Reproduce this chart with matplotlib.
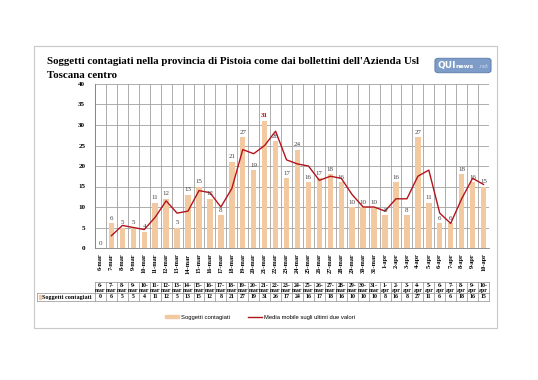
import numpy as np
import matplotlib
matplotlib.use('Agg')
import matplotlib.pyplot as plt
from matplotlib.patches import Rectangle, FancyBboxPatch
from matplotlib.lines import Line2D
from matplotlib.patches import Patch

plt.rcParams['font.family'] = ['Liberation Serif', 'DejaVu Serif']

# dati
giorni = ['6-mar', '7-mar', '8-mar', '9-mar', '10-mar', '11-mar', '12-mar', '13-mar', '14-mar',
          '15-mar', '16-mar', '17-mar', '18-mar', '19-mar', '20-mar', '21-mar', '22-mar', '23-mar',
          '24-mar', '25-mar', '26-mar', '27-mar', '28-mar', '29-mar', '30-mar', '31-mar',
          '1-apr', '2-apr', '3-apr', '4-apr', '5-apr', '6-apr', '7-apr', '8-apr', '9-apr', '10-apr']
contagiati = [0, 6, 5, 5, 4, 11, 12, 5, 13, 15, 12, 8, 21, 27, 19, 31, 26, 17,
              24, 16, 17, 18, 16, 10, 10, 10, 8, 16, 8, 27, 11, 6, 6, 18, 16, 15]
# media mobile (dal 7-mar in poi)
media_mobile = [3, 5.5, 5, 4.5, 7.5, 11.5, 8.5, 9, 14, 13.5, 10, 14.5, 24, 23, 25, 28.5, 21.5,
                20.5, 20, 16.5, 17.5, 17, 13, 10, 10, 9, 12, 12, 17.5, 19, 8.5, 6, 12, 17, 15.5]

W, H = 538, 380
fig = plt.figure(figsize=(W / 100, H / 100), dpi=100)

# cornice
fig.patches.append(Rectangle((34 / W, 1 - 328 / H), (497 - 34) / W, (328 - 46) / H,
                             transform=fig.transFigure, fill=False, ec='#c8c8c8', lw=0.8))

x0, x1, ytop, ybot = 95, 489, 84, 248
ax = fig.add_axes([x0 / W, 1 - ybot / H, (x1 - x0) / W, (ybot - ytop) / H])
n = len(giorni)
x = np.arange(n)
bar_col = '#f2c9a1'
line_col = '#b2141c'

ax.bar(x, contagiati, width=0.5, color=bar_col, zorder=2)
ax.plot(x[1:], media_mobile, color=line_col, lw=1.0, zorder=3)

for xi, v in zip(x, contagiati):
    if v == max(contagiati):
        ax.text(xi, v + 0.6, str(v), ha='center', va='bottom', fontsize=5, color='#c00000',
                fontweight='bold', zorder=4)
    else:
        ax.text(xi, v + 0.6, str(v), ha='center', va='bottom', fontsize=5, color='#404040', zorder=4)

ax.set_xlim(-0.5, n - 0.5)
ax.set_ylim(0, 40)
ax.set_yticks(range(0, 41, 5))
ax.set_yticklabels([str(v) for v in range(0, 41, 5)], fontsize=5, fontweight='bold')
ax.grid(axis='y', color='#a0a0a0', lw=0.6, zorder=0)
for k in range(n + 1):
    ax.axvline(k - 0.5, color='#a0a0a0', lw=0.6, zorder=0)
ax.set_xticks(x)
ax.set_xticklabels(giorni, rotation=90, fontsize=4.6, fontweight='bold', va='top')
ax.tick_params(axis='both', length=0, pad=4)
ax.tick_params(axis='y', pad=7)
for s in ['top', 'right']:
    ax.spines[s].set_visible(False)
ax.spines['left'].set_color('#808080')
ax.spines['bottom'].set_color('#808080')
ax.spines['left'].set_linewidth(0.6)
ax.spines['bottom'].set_linewidth(0.6)

# tabella dati
t_top, t_mid, t_bot = 282, 293, 301
tax = fig.add_axes([x0 / W, 1 - t_bot / H, (x1 - x0) / W, (t_bot - t_top) / H])
tax.set_xlim(-0.5, n - 0.5)
tax.set_ylim(0, t_bot - t_top)
tax.axis('off')
cw = (x1 - x0) / n
left_cell = -0.5 - (x0 - 37) / cw
hh = t_bot - t_top
mid = t_bot - t_mid
tc = '#909090'
tax.plot([-0.5, n - 0.5], [hh, hh], color=tc, lw=0.5, clip_on=False)
tax.plot([left_cell, n - 0.5], [mid, mid], color=tc, lw=0.5, clip_on=False)
tax.plot([left_cell, n - 0.5], [0, 0], color=tc, lw=0.5, clip_on=False)
tax.plot([left_cell, left_cell], [0, mid], color=tc, lw=0.5, clip_on=False)
for k in range(n + 1):
    tax.plot([k - 0.5, k - 0.5], [0, hh], color=tc, lw=0.5, clip_on=False)
for xi, g, v in zip(x, giorni, contagiati):
    d, m = g.split('-')
    tax.text(xi, mid + (hh - mid) * 0.72, d + '-', ha='center', va='center', fontsize=4.2,
             fontweight='bold', clip_on=False)
    tax.text(xi, mid + (hh - mid) * 0.25, m, ha='center', va='center', fontsize=4.2,
             fontweight='bold', clip_on=False)
    tax.text(xi, mid / 2, str(v), ha='center', va='center', fontsize=4.2, fontweight='bold',
             clip_on=False)
tax.add_patch(Rectangle((left_cell + 0.15, mid * 0.3), 0.25, mid * 0.4, color=bar_col, clip_on=False))
tax.text(left_cell + 0.5, mid / 2, 'Soggetti contagiati', ha='left', va='center', fontsize=4.4,
         fontweight='bold', clip_on=False)

# titolo
fig.text(47 / W, 1 - 62 / H, "Soggetti contagiati nella provincia di Pistoia come dai bollettini dell'Azienda Usl",
         fontsize=7.8, fontweight='bold', ha='left', va='center')
fig.text(47 / W, 1 - 76 / H, 'Toscana centro', fontsize=7.8, fontweight='bold', ha='left', va='center')

# logo
fig.patches.append(FancyBboxPatch((436 / W, 1 - 72 / H), 54 / W, 13 / H,
                                  boxstyle='round,pad=0.002,rounding_size=0.006',
                                  transform=fig.transFigure, fc='#7e9cc8', ec='#5a78a8', lw=0.6))
fig.text(438 / W, 1 - 65.5 / H, 'QUI', color='white', fontsize=6.5, fontweight='bold',
         family='DejaVu Sans', ha='left', va='center')
fig.text(456 / W, 1 - 66 / H, 'news', color='white', fontsize=4.5, fontweight='bold',
         family='DejaVu Sans', ha='left', va='center')
fig.text(488 / W, 1 - 66 / H, '.net', color='#c8d8f0', fontsize=3.6,
         family='DejaVu Sans', ha='right', va='center')

# legenda
handles = [Patch(color=bar_col, label='Soggetti contagiati'),
           Line2D([], [], color=line_col, lw=1.0, label='Media mobile sugli ultimi due valori')]
leg = fig.legend(handles=handles, loc='center', bbox_to_anchor=(260 / W, 1 - 317 / H), ncol=2,
                 frameon=False, prop={'family': 'Liberation Sans', 'size': 4.2},
                 handlelength=2.4, handleheight=0.4, columnspacing=3.2, handletextpad=0.3)

plt.savefig('out.png', dpi=100)
